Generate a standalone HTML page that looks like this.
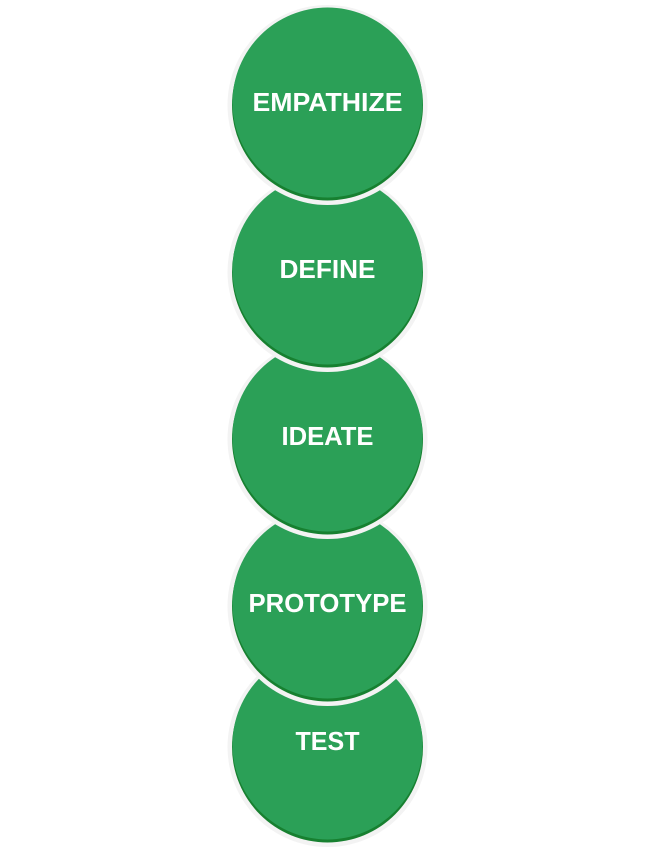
<!DOCTYPE html>
<html><head><meta charset="utf-8"><style>html,body{margin:0;padding:0;background:#fff}svg{display:block}</style></head>
<body>
<svg width="655" height="865" viewBox="0 0 655 865" xmlns="http://www.w3.org/2000/svg" font-family="Liberation Sans, sans-serif" font-weight="bold" fill="#fff">
<g><circle cx="327.5" cy="747" r="100" fill="#f3f3f3"/><circle cx="327.5" cy="747" r="95.5" fill="#178030"/><circle cx="327.5" cy="744.5" r="95" fill="#2ba057"/>
<text x="327.5" y="750" font-size="26" text-anchor="middle" textLength="64" lengthAdjust="spacingAndGlyphs" fill="#fff">TEST</text></g>
<g><circle cx="327.5" cy="606" r="100" fill="#f3f3f3"/><circle cx="327.5" cy="606" r="95.5" fill="#178030"/><circle cx="327.5" cy="603.5" r="95" fill="#2ba057"/>
<text x="327.5" y="612" font-size="26" text-anchor="middle" textLength="158" lengthAdjust="spacingAndGlyphs" fill="#fff">PROTOTYPE</text></g>
<g><circle cx="327.5" cy="439" r="100" fill="#f3f3f3"/><circle cx="327.5" cy="439" r="95.5" fill="#178030"/><circle cx="327.5" cy="436.5" r="95" fill="#2ba057"/>
<text x="327.5" y="445" font-size="26" text-anchor="middle" textLength="92" lengthAdjust="spacingAndGlyphs" fill="#fff">IDEATE</text></g>
<g><circle cx="327.5" cy="272" r="100" fill="#f3f3f3"/><circle cx="327.5" cy="272" r="95.5" fill="#178030"/><circle cx="327.5" cy="269.5" r="95" fill="#2ba057"/>
<text x="327.5" y="278" font-size="26" text-anchor="middle" textLength="96" lengthAdjust="spacingAndGlyphs" fill="#fff">DEFINE</text></g>
<g><circle cx="327.5" cy="105" r="100" fill="#f3f3f3"/><circle cx="327.5" cy="105" r="95.5" fill="#178030"/><circle cx="327.5" cy="102.5" r="95" fill="#2ba057"/>
<text x="327.5" y="111" font-size="26" text-anchor="middle" textLength="150" lengthAdjust="spacingAndGlyphs" fill="#fff">EMPATHIZE</text></g>
</svg>
</body></html>
